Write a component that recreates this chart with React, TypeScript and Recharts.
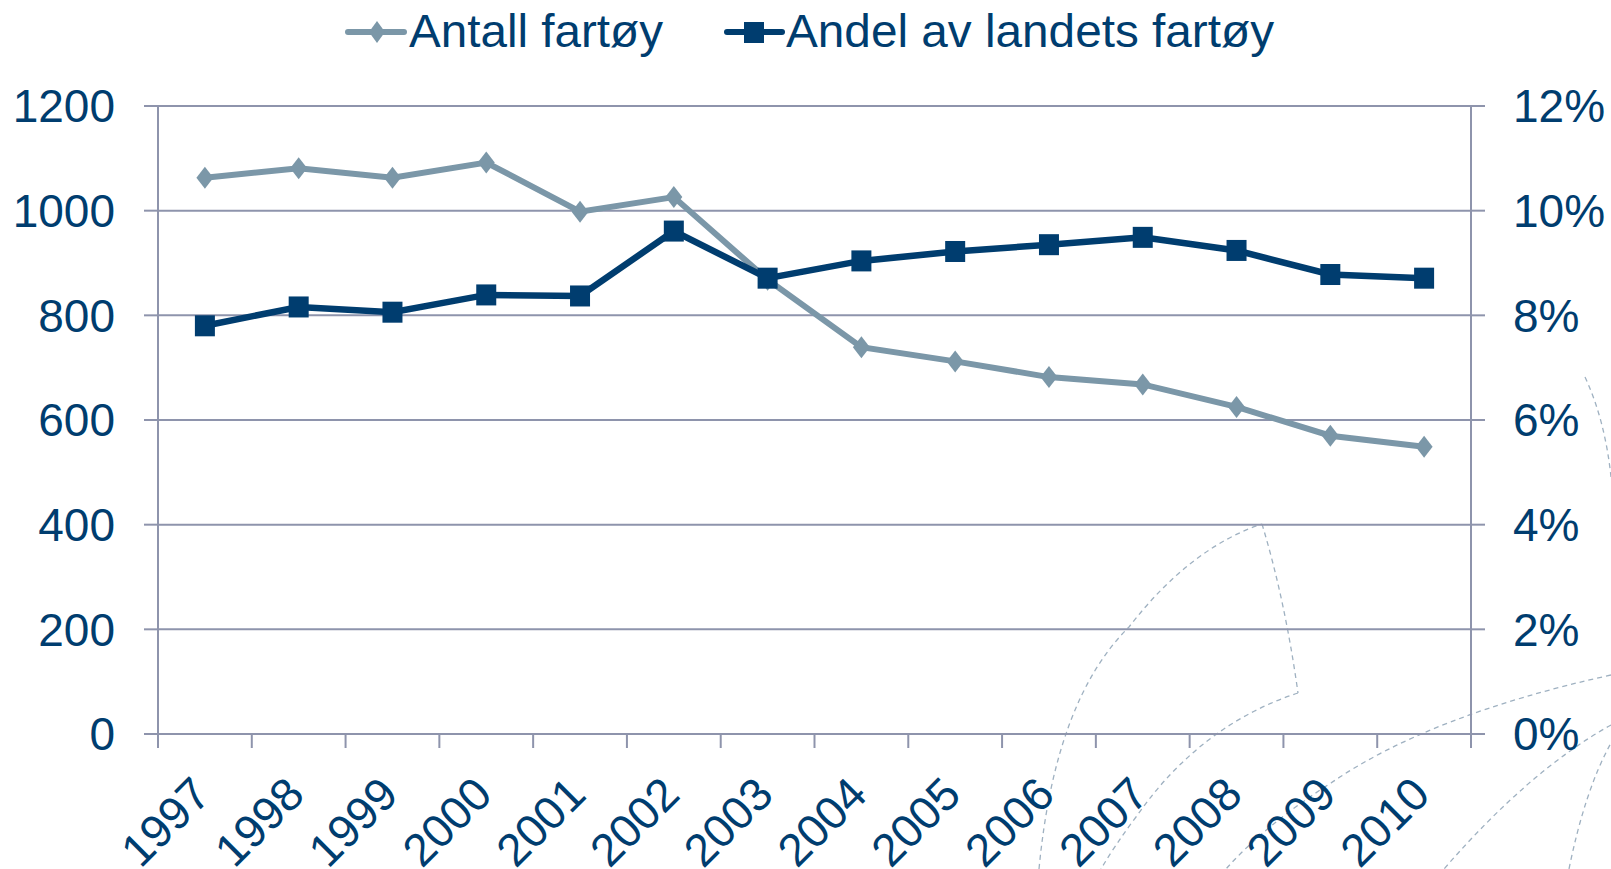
import { ComposedChart, Line, XAxis, YAxis, CartesianGrid, Legend } from "recharts";

const years = ["1997", "1998", "1999", "2000", "2001", "2002", "2003", "2004", "2005", "2006", "2007", "2008", "2009", "2010"];
const antallFartoy = [1063, 1081, 1063, 1092, 998, 1026, 868, 739, 712, 682, 668, 625, 570, 549];
const andelFartoy = [7.8, 8.16, 8.06, 8.39, 8.37, 9.61, 8.71, 9.04, 9.22, 9.35, 9.49, 9.24, 8.78, 8.71];
const leftTicks = [0, 200, 400, 600, 800, 1000, 1200];
const rightTicks = [0, 2, 4, 6, 8, 10, 12];

const LIGHT = "#7b97a8";
const DARK = "#003d6f";
const TEXT = "#003d6f";
const GRID = "#8e94ac";
const FONT = "'Liberation Sans', Arial, sans-serif";

const data = years.map((year, i) => ({ year, antall: antallFartoy[i], andel: andelFartoy[i] }));
// category boundaries: tick marks sit between the years
const edgeTicks = [...years.map((_, i) => i), years.length];
const slotOf = (row: { year: string }) => years.indexOf(row.year) + 0.5;

const Diamond = (props: any) => {
  const { cx, cy } = props;
  if (cx == null || cy == null) return null;
  return <path d={`M${cx},${cy - 11}L${cx + 8.5},${cy}L${cx},${cy + 11}L${cx - 8.5},${cy}Z`} fill={LIGHT} />;
};

const Square = (props: any) => {
  const { cx, cy } = props;
  if (cx == null || cy == null) return null;
  return <rect x={cx - 10} y={cy - 10.5} width={20} height={21} fill={DARK} />;
};

const NoLabel = () => <g />;

const YearTick = (props: any) => {
  const { x, y, payload } = props;
  const tx = x + 8;
  const ty = y + 62;
  return (
    <text x={tx} y={ty} transform={`rotate(-45 ${tx} ${ty})`} textAnchor="end" fill={TEXT} fontSize={46} fontFamily={FONT}>
      {payload.value}
    </text>
  );
};

const LegendContent = () => (
  <svg width={1611} height={106} style={{ display: "block" }}>
    <line x1={348} y1={32} x2={404} y2={32} stroke={LIGHT} strokeWidth={6} strokeLinecap="round" />
    <path d="M377,21L385,32L377,43L369,32Z" fill={LIGHT} />
    <text x={409} y={47} fill={TEXT} fontSize={46} fontFamily={FONT} textLength={254} lengthAdjust="spacingAndGlyphs">
      Antall fartøy
    </text>
    <line x1={727} y1={32} x2={782} y2={32} stroke={DARK} strokeWidth={6} strokeLinecap="round" />
    <rect x={744} y={22} width={20} height={21} fill={DARK} />
    <text x={786} y={47} fill={TEXT} fontSize={46} fontFamily={FONT} textLength={488} lengthAdjust="spacingAndGlyphs">
      Andel av landets fartøy
    </text>
  </svg>
);

// dashed swirl from the slide background
const Backdrop = () => (
  <svg width={1611} height={869} style={{ position: "absolute", left: 0, top: 0 }}>
    <g fill="none" stroke="#9fb1c1" strokeWidth={1.3} strokeDasharray="5 4">
      <path d="M1039,869 Q1055,700 1129,627 Q1190,548 1262,524" />
      <path d="M1262,524 Q1285,600 1298,693" />
      <path d="M1298,693 Q1200,725 1136,817 Q1115,845 1101,869" />
      <path d="M1611,675 Q1430,715 1331,783 Q1265,825 1226,869" />
      <path d="M1611,725 Q1530,770 1444,869" />
      <path d="M1585,377 Q1605,420 1611,477" />
      <path d="M1569,869 Q1585,790 1611,743" />
    </g>
  </svg>
);

export default function App() {
  return (
    <div style={{ position: "absolute", left: 0, top: 0, width: 1611, height: 869, background: "#fff" }}>
      <Backdrop />
      <div style={{ position: "absolute", left: 0, top: 0 }}>
        <ComposedChart width={1611} height={869} data={data} margin={{ top: 0, right: 0, bottom: 0, left: 0 }}>
          <Legend verticalAlign="top" align="left" content={<LegendContent />} wrapperStyle={{ left: 0, top: 0, width: 1611, height: 106 }} />
          <CartesianGrid vertical={false} stroke={GRID} strokeWidth={2} xAxisId="years" yAxisId="left" />
          <XAxis
            xAxisId="edges"
            type="number"
            dataKey={slotOf}
            domain={[0, years.length]}
            allowDataOverflow
            ticks={edgeTicks}
            interval={0}
            tick={<NoLabel />}
            height={1}
            axisLine={false}
            tickLine={{ stroke: GRID, strokeWidth: 2 }}
            tickSize={14}
          />
          <XAxis
            xAxisId="years"
            dataKey="year"
            scale="band"
            height={134}
            interval={0}
            axisLine={false}
            tickLine={false}
            tickSize={0}
            tickMargin={0}
            tick={<YearTick />}
          />
          <YAxis
            yAxisId="left"
            domain={[0, 1200]}
            ticks={leftTicks}
            width={158}
            axisLine={{ stroke: GRID, strokeWidth: 2 }}
            tickLine={{ stroke: GRID, strokeWidth: 2 }}
            tickSize={14}
            tickMargin={29}
            tick={{ fill: TEXT, fontSize: 46, fontFamily: FONT }}
          />
          <YAxis
            yAxisId="right"
            orientation="right"
            domain={[0, 12]}
            ticks={rightTicks}
            width={140}
            tickFormatter={(v: number) => `${v}%`}
            axisLine={{ stroke: GRID, strokeWidth: 2 }}
            tickLine={{ stroke: GRID, strokeWidth: 2 }}
            tickSize={14}
            tickMargin={28}
            tick={{ fill: TEXT, fontSize: 46, fontFamily: FONT }}
          />
          <Line
            xAxisId="years"
            yAxisId="left"
            dataKey="antall"
            stroke={LIGHT}
            strokeWidth={6}
            dot={<Diamond />}
            activeDot={false}
            isAnimationActive={false}
          />
          <Line
            xAxisId="years"
            yAxisId="right"
            dataKey="andel"
            stroke={DARK}
            strokeWidth={6.5}
            dot={<Square />}
            activeDot={false}
            isAnimationActive={false}
          />
        </ComposedChart>
      </div>
    </div>
  );
}
